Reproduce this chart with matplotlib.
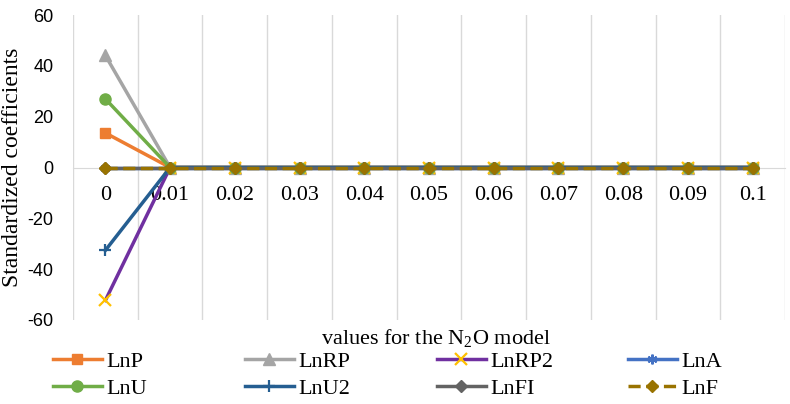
import matplotlib
matplotlib.use("Agg")
import matplotlib.pyplot as plt

plt.rcParams["mathtext.fontset"] = "custom"
plt.rcParams["mathtext.rm"] = "Liberation Serif"
plt.rcParams["mathtext.it"] = "Liberation Serif"
plt.rcParams["axes.unicode_minus"] = False

# data
x_labels = ["0", "0.01", "0.02", "0.03", "0.04", "0.05", "0.06", "0.07", "0.08", "0.09", "0.1"]
rest = [0] * 10
LnP = [13.6] + rest
LnRP = [44.1] + rest
LnRP2 = [-52.3] + rest
LnA = [0] + rest
LnU = [27.0] + rest
LnU2 = [-32.6] + rest
LnFI = [0] + rest
LnF = [0] + rest

names = ["LnP", "LnRP", "LnRP2", "LnA", "LnU", "LnU2", "LnFI", "LnF"]
series = [LnP, LnRP, LnRP2, LnA, LnU, LnU2, LnFI, LnF]
# (line colour, marker, marker colour, marker size, linestyle)
styles = [
    ("#ED7D31", "s", "#ED7D31", 7, "-"),
    ("#A5A5A5", "^", "#A5A5A5", 8, "-"),
    ("#7030A0", "x", "#FFC000", 8, "-"),
    ("#4472C4", "*", "#4472C4", 7, "-"),
    ("#70AD47", "o", "#70AD47", 8, "-"),
    ("#255E91", "+", "#255E91", 9, "-"),
    ("#636363", "D", "#636363", 6.5, "-"),
    ("#997300", "D", "#997300", 6.5, (0, (3.5, 1.6))),
]

fig = plt.figure(figsize=(7.9, 4.04), dpi=100)
ax = fig.add_axes([73 / 790, 1 - 320 / 404, 712 / 790, 305 / 404])

xs = list(range(len(x_labels)))
handles = []
for name, vals, (c, m, mc, ms, ls) in zip(names, series, styles):
    mew = 1.6 if m in ("x", "+", "*") else 1
    if m == "*":
        m = (6, 2, 0)
    h, = ax.plot(xs, vals, color=c, lw=2.5, ls=ls, marker=m, ms=ms,
                 mfc=mc, mec=mc, mew=mew, label=name)
    handles.append(h)

# vertical gridlines between categories
for b in range(len(x_labels) + 1):
    ax.axvline(b - 0.5, color="#D9D9D9", lw=1, zorder=0)

for s in ["top", "right", "left"]:
    ax.spines[s].set_visible(False)
ax.spines["bottom"].set_position(("data", 0))
ax.spines["bottom"].set_color("#D9D9D9")
ax.spines["bottom"].set_zorder(0)

ax.set_xlim(-0.5, len(x_labels) - 0.5)
ax.set_ylim(-60, 60)
ax.set_yticks([-60, -40, -20, 0, 20, 40, 60])
ax.set_xticks(xs)
ax.set_xticklabels(x_labels)
ax.tick_params(axis="x", length=0, pad=13, colors="black")
ax.tick_params(axis="y", length=0, pad=14)
for t in ax.get_xticklabels():
    t.set_fontfamily("Liberation Serif")
    t.set_fontsize(16)
for t in ax.get_yticklabels():
    t.set_fontfamily("Liberation Sans")
    t.set_fontsize(13)

ax.set_ylabel("Standardized coefficients", fontfamily="Liberation Serif", fontsize=17)
ax.yaxis.set_label_coords(-0.07, 0.5)

fig.text(436 / 790, 1 - 338 / 404, "values for the N$_2$O model",
         fontfamily="Liberation Serif", fontsize=16, ha="center", va="center")

# legend: 4 columns of 2 rows
col_x = [53, 245, 437, 628]
for i, cx in enumerate(col_x):
    hs = [handles[i], handles[i + 4]]
    fig.legend(hs, [h.get_label() for h in hs], loc="upper left",
               bbox_to_anchor=(cx / 790, 1 - 351 / 404), frameon=False,
               prop={"family": "Liberation Serif", "size": 16},
               handlelength=2.2, handletextpad=0.2, labelspacing=0.3,
               borderpad=0, borderaxespad=0)

fig.savefig("out.png", dpi=100)
